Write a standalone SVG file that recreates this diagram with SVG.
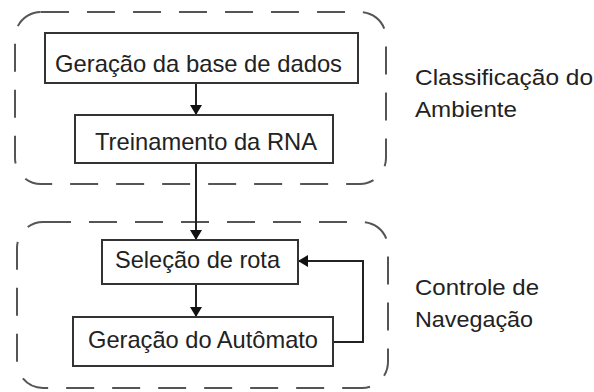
<svg xmlns="http://www.w3.org/2000/svg" width="594" height="392" viewBox="0 0 594 392">
  <style>
    .group { fill: none; stroke: #555; stroke-width: 2; stroke-dasharray: 28 18; }
    .box { fill: #fff; stroke: #333; stroke-width: 2; }
    .lbl { font-family: "Liberation Sans", Arial, sans-serif; font-size: 24px; fill: #222; }
    .side { font-family: "Liberation Sans", Arial, sans-serif; font-size: 22px; fill: #222; }
    .edge { fill: none; stroke: #222; stroke-width: 2; }
  </style>
  <defs>
    <marker id="arrow" viewBox="0 0 10 12" refX="10" refY="6" markerWidth="10" markerHeight="12" markerUnits="userSpaceOnUse" orient="auto">
      <path d="M0,0 L10,6 L0,12 Z" fill="#111"/>
    </marker>
  </defs>

  <!-- dashed stage groups -->
  <g id="stage-classificacao">
    <rect class="group" x="15" y="12" width="371" height="172" rx="26" ry="26"/>
    <text class="side" x="415" y="85" textLength="178" lengthAdjust="spacingAndGlyphs">Classificação do</text>
    <text class="side" x="415" y="117" textLength="102" lengthAdjust="spacingAndGlyphs">Ambiente</text>
  </g>
  <g id="stage-controle">
    <rect class="group" x="17" y="222" width="371" height="166" rx="26" ry="26"/>
    <text class="side" x="415" y="295" textLength="124" lengthAdjust="spacingAndGlyphs">Controle de</text>
    <text class="side" x="415" y="327" textLength="118" lengthAdjust="spacingAndGlyphs">Navegação</text>
  </g>

  <!-- connectors -->
  <g id="connectors">
    <line class="edge" x1="196" y1="83" x2="196" y2="115" marker-end="url(#arrow)"/>
    <line class="edge" x1="196" y1="163" x2="196" y2="240" marker-end="url(#arrow)"/>
    <line class="edge" x1="196" y1="284" x2="196" y2="317" marker-end="url(#arrow)"/>
    <polyline class="edge" points="333,342 363,342 363,261 298,261" marker-end="url(#arrow)"/>
  </g>

  <!-- process nodes -->
  <g id="node-geracao-base">
    <rect class="box" x="45" y="33" width="313" height="50"/>
    <text class="lbl" x="55" y="72" textLength="287" lengthAdjust="spacingAndGlyphs">Geração da base de dados</text>
  </g>
  <g id="node-treinamento">
    <rect class="box" x="75" y="115" width="258" height="48"/>
    <text class="lbl" x="95" y="150" textLength="222" lengthAdjust="spacingAndGlyphs">Treinamento da RNA</text>
  </g>
  <g id="node-selecao">
    <rect class="box" x="102" y="240" width="196" height="44"/>
    <text class="lbl" x="115" y="268" textLength="165" lengthAdjust="spacingAndGlyphs">Seleção de rota</text>
  </g>
  <g id="node-automato">
    <rect class="box" x="73" y="317" width="260" height="49"/>
    <text class="lbl" x="88" y="348" textLength="230" lengthAdjust="spacingAndGlyphs">Geração do Autômato</text>
  </g>
</svg>
